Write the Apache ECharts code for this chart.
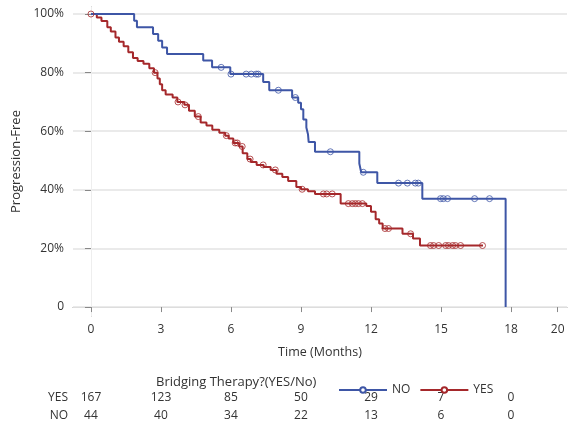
<!DOCTYPE html>
<html>
<head>
<meta charset="utf-8">
<script src="https://cdn.jsdelivr.net/npm/echarts@6/dist/echarts.min.js"></script>
<style>
  html, body { margin: 0; padding: 0; background: #fff; }
  #chart { width: 569px; height: 422px; }
</style>
</head>
<body>
<div id="chart"></div>
<script>
// Kaplan-Meier steps: [months, survival]
const noSteps = [
  [0, 1], [1.85, 0.977], [1.97, 0.955], [2.66, 0.932], [2.88, 0.909], [3.05, 0.886],
  [3.26, 0.864], [4.81, 0.841], [5.19, 0.818], [5.97, 0.795], [7.38, 0.768],
  [7.64, 0.74], [8.62, 0.715], [8.88, 0.697], [9.0, 0.675], [9.1, 0.64],
  [9.23, 0.613], [9.3, 0.59], [9.33, 0.563], [9.6, 0.53], [11.5, 0.49],
  [11.58, 0.46], [12.27, 0.423], [14.2, 0.37], [17.77, 0]
]
const yesSteps = [
  [0, 1], [0.25, 0.988], [0.45, 0.976], [0.7, 0.955], [0.85, 0.94], [1.05, 0.92],
  [1.2, 0.905], [1.4, 0.89], [1.6, 0.87], [1.8, 0.85], [2.0, 0.84], [2.25, 0.83],
  [2.5, 0.815], [2.7, 0.8], [2.85, 0.78], [2.95, 0.76], [3.05, 0.74], [3.2, 0.725],
  [3.5, 0.715], [3.7, 0.7], [4.0, 0.69], [4.2, 0.67], [4.45, 0.65], [4.7, 0.63],
  [4.95, 0.62], [5.2, 0.605], [5.5, 0.595], [5.75, 0.585], [5.9, 0.575], [6.1, 0.56],
  [6.35, 0.548], [6.5, 0.525], [6.7, 0.505], [6.85, 0.495], [7.1, 0.485], [7.4, 0.478],
  [7.7, 0.468], [7.95, 0.455], [8.2, 0.444], [8.45, 0.43], [8.8, 0.41], [9.0, 0.402],
  [9.3, 0.395], [9.6, 0.386], [10.7, 0.353], [11.8, 0.345], [12.0, 0.325], [12.2, 0.3],
  [12.35, 0.285], [12.5, 0.268], [13.35, 0.25], [13.8, 0.234], [14.1, 0.21], [16.8, 0.21]
]
// censored times
const noCensor = [5.58, 6.0, 6.65, 6.87, 7.08, 7.17, 8.03, 8.76, 10.26, 11.67,
  13.18, 13.56, 13.9, 14.03, 14.98, 15.1, 15.28, 16.44, 17.08]
const yesCensor = [0, 2.75, 3.73, 4.03, 4.6, 5.8, 6.18, 6.27, 6.48, 6.82, 7.38, 7.9,
  9.05, 9.96, 10.1, 10.34, 11.03, 11.2, 11.33, 11.46, 11.63, 12.6, 12.75, 13.7,
  14.55, 14.68, 14.9, 15.2, 15.32, 15.5, 15.62, 15.84, 16.78]
// number at risk
const riskTimes = [0, 3, 6, 9, 12, 15, 18]
const riskYes = [167, 123, 85, 50, 29, 7, 0]
const riskNo = [44, 40, 34, 22, 13, 6, 0]
const xTicks = [0, 3, 6, 9, 12, 15, 18, 20]
const yTicks = [0, 0.2, 0.4, 0.6, 0.8, 1]

const BLUE = '#3e56a6'
const RED = '#a5282b'
const FONT = 'Open Sans'

// survival value at a censored time, taken from the step data
const survAt = (steps, t) => {
  let s = steps[0][1]
  steps.forEach(p => { if (p[0] <= t) s = p[1] })
  return s
}

const myChart = echarts.init(document.getElementById('chart'))

const riskAxis = (vals, offset) => ({
  type: 'value', min: -0.77, max: 20.4, position: 'bottom', offset,
  axisLine: { show: false }, axisTick: { show: false }, splitLine: { show: false },
  axisLabel: {
    customValues: riskTimes, margin: 0, verticalAlign: 'middle',
    fontFamily: FONT, fontSize: 12, color: '#333',
    formatter: v => vals[riskTimes.indexOf(Math.round(v))]
  }
})

const option = {
  animation: false,
  grid: { left: 73, right: 2, top: 7, bottom: 104 },
  legend: {
    left: 333, top: 379, itemWidth: 48, itemHeight: 7, itemGap: 9,
    textStyle: { fontFamily: FONT, fontSize: 12, color: '#333' },
    data: ['NO', 'YES']
  },
  graphic: [
    { type: 'text', left: 156, top: 376,
      style: { text: 'Bridging Therapy?(YES/No)', font: '13px "Open Sans"', fill: '#333' } },
    { type: 'text', right: 501, top: 392,
      style: { text: 'YES', font: '12px "Open Sans"', fill: '#333', textAlign: 'right' } },
    { type: 'text', right: 501, top: 410,
      style: { text: 'NO', font: '12px "Open Sans"', fill: '#333', textAlign: 'right' } }
  ],
  xAxis: [
    {
      type: 'value', min: -0.77, max: 20.4,
      name: 'Time (Months)', nameLocation: 'middle', nameGap: 30,
      nameTextStyle: { fontFamily: FONT, fontSize: 12.5, color: '#333' },
      axisLine: { lineStyle: { color: '#888', width: 1 } },
      axisTick: { customValues: xTicks, length: 5, lineStyle: { color: '#888' } },
      axisLabel: { customValues: xTicks, margin: 8, fontFamily: FONT, fontSize: 12, color: '#333' },
      splitLine: { show: false }
    },
    {
      type: 'value', min: -0.77, max: 20.4, position: 'top',
      axisLine: { lineStyle: { color: '#ddd' } },
      axisTick: { show: false }, axisLabel: { show: false }, splitLine: { show: false }
    },
    riskAxis(riskYes, 82),
    riskAxis(riskNo, 100)
  ],
  yAxis: [
    {
      type: 'value', min: -0.0305, max: 1.024,
      name: 'Progression-Free', nameLocation: 'middle', nameGap: 50,
      nameTextStyle: { fontFamily: FONT, fontSize: 13, color: '#333' },
      axisLine: { show: true, lineStyle: { color: '#888', width: 1 } },
      axisTick: { show: true, customValues: yTicks, length: 6, lineStyle: { color: '#888' } },
      axisLabel: {
        customValues: yTicks, margin: 9, fontFamily: FONT, fontSize: 12, color: '#333',
        formatter: v => (Math.round(v * 100) === 0 ? '0' : Math.round(v * 100) + '%')
      },
      splitLine: { show: true, lineStyle: { color: '#e3e3e3', width: 1.5 } }
    },
    {
      type: 'value', min: -0.0305, max: 1.024, position: 'right',
      axisLine: { show: true, lineStyle: { color: '#eee' } },
      axisTick: { show: false }, axisLabel: { show: false }, splitLine: { show: false }
    }
  ],
  series: [
    {
      name: 'NO', type: 'line', step: 'end', data: noSteps,
      symbol: 'emptyCircle', symbolSize: 5, showSymbol: false,
      itemStyle: { color: BLUE }, lineStyle: { color: BLUE, width: 2 }, z: 3
    },
    {
      name: 'YES', type: 'line', step: 'end', data: yesSteps,
      symbol: 'emptyCircle', symbolSize: 5, showSymbol: false,
      itemStyle: { color: RED }, lineStyle: { color: RED, width: 2 }, z: 2
    },
    {
      name: 'NO', type: 'scatter', symbol: 'circle', symbolSize: 6, z: 4,
      itemStyle: { color: 'rgba(255,255,255,0)', borderColor: BLUE, borderWidth: 1 },
      data: noCensor.map(t => [t, survAt(noSteps, t)])
    },
    {
      name: 'YES', type: 'scatter', symbol: 'circle', symbolSize: 6, z: 4,
      itemStyle: { color: 'rgba(255,255,255,0)', borderColor: RED, borderWidth: 1 },
      data: yesCensor.map(t => [t, survAt(yesSteps, t)])
    }
  ]
}
myChart.setOption(option)
</script>
</body>
</html>
